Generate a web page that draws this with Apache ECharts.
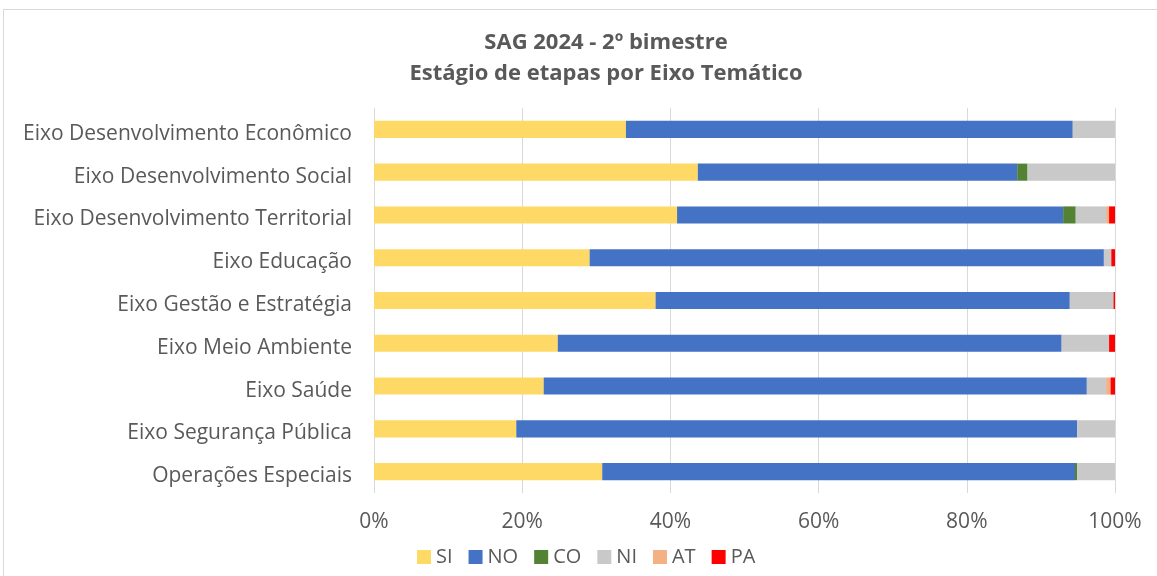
<!DOCTYPE html>
<html>
<head>
<meta charset="utf-8">
<script src="https://cdn.jsdelivr.net/npm/echarts@6/dist/echarts.min.js"></script>
<style>
  html, body { margin: 0; padding: 0; background: #fff; }
  #frame { position: absolute; left: 3px; top: 9px; width: 1160px; height: 580px; border: 1px solid #d9d9d9; }
  #chart { position: absolute; left: 0; top: 0; width: 1157px; height: 576px; }
</style>
</head>
<body>
<div id="frame"></div>
<div id="chart"></div>
<script>
// eixos temáticos (de cima para baixo)
const categories = [
  'Eixo Desenvolvimento Econômico',
  'Eixo Desenvolvimento Social',
  'Eixo Desenvolvimento Territorial',
  'Eixo Educação',
  'Eixo Gestão e Estratégia',
  'Eixo Meio Ambiente',
  'Eixo Saúde',
  'Eixo Segurança Pública',
  'Operações Especiais'
]
// percentuais por estágio
const SI = [34.0, 43.7, 40.9, 29.1, 38.0, 24.8, 22.9, 19.2, 30.8]
const NO = [60.3, 43.1, 52.1, 69.4, 55.9, 68.0, 73.3, 75.7, 63.8]
const CO = [0, 1.4, 1.7, 0, 0, 0, 0, 0, 0.3]
const NI = [5.7, 11.8, 4.1, 1.0, 5.9, 6.4, 2.6, 5.1, 5.1]
const AT = [0, 0, 0.4, 0, 0, 0, 0.6, 0, 0]
const PA = [0, 0, 0.8, 0.5, 0.2, 0.8, 0.6, 0, 0]
const xTicks = [0, 20, 40, 60, 80, 100]

const seriesData = [
  { name: 'SI', data: SI, color: '#ffd966' },
  { name: 'NO', data: NO, color: '#4472c4' },
  { name: 'CO', data: CO, color: '#548235' },
  { name: 'NI', data: NI, color: '#c9c9c9' },
  { name: 'AT', data: AT, color: '#f4b183' },
  { name: 'PA', data: PA, color: '#ff0000' }
]

const font = 'Open Sans'
const myChart = echarts.init(document.getElementById('chart'))
myChart.setOption({
  animation: false,
  title: {
    text: 'SAG 2024 - 2º bimestre\nEstágio de etapas por Eixo Temático',
    left: 601,
    textAlign: 'center',
    top: 22,
    textStyle: {
      fontFamily: font,
      fontSize: 22,
      fontWeight: 'bold',
      color: '#595959',
      lineHeight: 31
    }
  },
  legend: {
    bottom: 4,
    left: 412,
    itemWidth: 14,
    itemHeight: 14,
    itemGap: 16,
    icon: 'rect',
    textStyle: { fontFamily: font, fontSize: 20, color: '#595959' },
    data: seriesData.map(s => s.name)
  },
  grid: {
    left: 374,
    right: 42,
    top: 108,
    bottom: 83,
    containLabel: false
  },
  xAxis: {
    type: 'value',
    min: 0,
    max: 100,
    interval: 20,
    axisLine: { show: false },
    axisTick: { show: false },
    splitLine: { lineStyle: { color: '#d9d9d9', width: 1 } },
    axisLabel: {
      fontFamily: font,
      fontSize: 21,
      color: '#595959',
      margin: 19,
      formatter: v => xTicks.includes(v) ? v + '%' : ''
    }
  },
  yAxis: {
    type: 'category',
    data: categories,
    inverse: true,
    axisLine: { show: false },
    axisTick: { show: false },
    axisLabel: {
      margin: 22,
      formatter: v => '{c|' + v + '}',
      rich: {
        c: {
          fontFamily: font,
          fontSize: 21,
          color: '#595959',
          padding: [9, 0, 0, 0]
        }
      }
    }
  },
  series: seriesData.map(s => ({
    name: s.name,
    type: 'bar',
    stack: 'total',
    barCategoryGap: '60%',
    data: s.data,
    itemStyle: { color: s.color }
  }))
})
window.onresize = function () {
  myChart.resize()
}
</script>
</body>
</html>
